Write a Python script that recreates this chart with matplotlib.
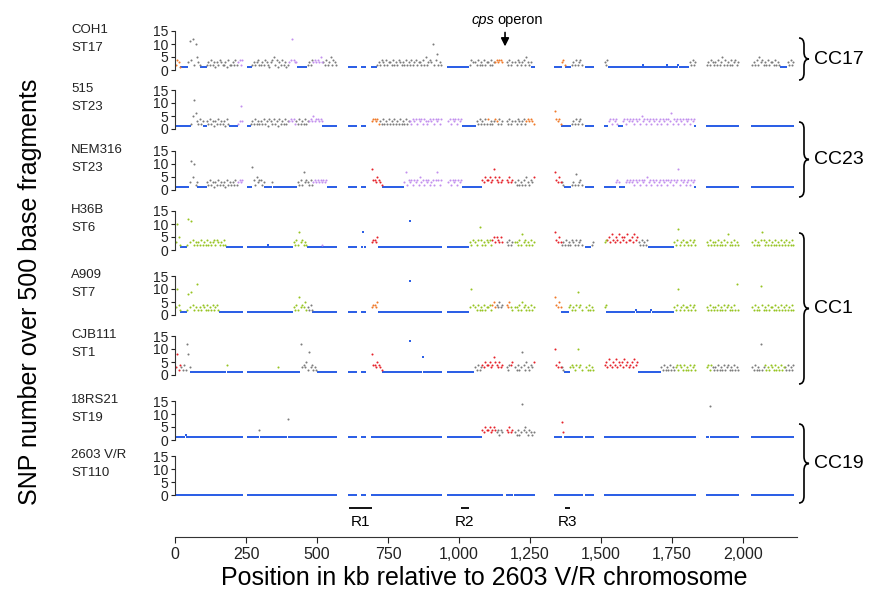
import sys
import matplotlib
matplotlib.use("Agg")
import matplotlib.pyplot as plt
from matplotlib.path import Path
from matplotlib.patches import PathPatch
from matplotlib.ticker import FuncFormatter

plt.rcParams['font.family'] = ['Liberation Sans', 'DejaVu Sans']

# ---------------- data ----------------
BIN_KB = 5  # each character = one 5 kb bin; '.' = no data (gap); hex digit = SNP count
strain_names = ["COH1", "515", "NEM316", "H36B", "A909", "CJB111", "18RS21", "2603 V/R"]
sequence_types = ["ST17", "ST23", "ST23", "ST6", "ST7", "ST1", "ST19", "ST110"]

snp_coh1 = [
    "2431111113b4c2a53211", "11232423132432231422", "32423424...111232342", "23243213452413242312",
    "34c43311111112324343", "43533242352432......", "..111111...111....11", "11232432423324232432",
    "32423242342332425234", "3a246232....11111111", "1111111243.324232423", "32423343443..32423.3",
    "2432342532311.......", ".......1111134211112", "3242342..111111.....", "..324111111111111111",
    "11111111121111111111", "11111121111111211111", "1132423.......232432", "32423524232423423...",
    "......23242534232423", "3242321111132423....",
]
snp_515 = [
    "1111111111125b632423", "11324231324232314211", "11112393...112324232", "32423143242314232423",
    "34342324232423343534", "43431111111111......", "..111111...111....34", "43423242324232423242",
    "32423324342434243234", "34243424....34243424", "3411111111.132423242", "42323432423..32423.3",
    "2432342343432.......", ".......7434211111112", "3242342..111111.....", "..111342434211134243",
    "43424342534243424342", "34243424362434243424", "3424341.......111111", "11111111111111111...",
    "......11111111111111", "1111111111111111....",
]
snp_nem316 = [
    "11111111113b5a231111", "11324231324232314232", "32423434...111942534", "42311111311111111111",
    "11111132427343242343", "43434341111111......", "..111111...111....84", "43543211111111111111",
    "13724342434253424342", "34247424....34243424", "3411111111.111114354", "45348543534..43534.3",
    "2423242532435.......", ".......7435332111112", "3262342..111111.....", "..111111113431111343",
    "43424342434253424342", "34243424342434824342", "3424341.......111111", "11111111111111111...",
    "......11111111111111", "1111111111111111....",
]
snp_h36b = [
    "3a5211112c3b42323242", "32423234243232421111", "11111111...111111111", "11111211111111111111",
    "11132427342321111111", "11121111111111......", "..111111...171....34", "43511111111111111111",
    "11111b11111111111111", "11111111....11111111", "1111111324.324942324", "34245354353..32423.3",
    "3242634232423.......", ".......7435323242324", "3242342..111123.....", "..344536435463545364",
    "45364532423241111111", "11111111111324823423", "3242342.......324232", "32423242362324232...",
    "......32423247423242", "3242324232423242....",
]
snp_a909 = [
    "3a4211112839423c2324", "32423242342111111111", "11111111...111111111", "11111111111111111111",
    "11132427343523242111", "11111111111111......", "..111111...111....34", "43511111111111111111",
    "11111d11111111111111", "11111111....11111111", "11111113a4.324232423", "34245343534..43532.3",
    "3242534232423.......", ".......7435311111342", "3249342..324232.....", "..341111111111111111",
    "11112111111111121111", "11111111111324a23423", "3242342.......324232", "324232423423242c2...",
    "......324232b4232423", "3242324232423242....",
]
snp_cjb111 = [
    "38243242c83111111111", "11111111111111114111", "11111111...111111111", "11111111111131111111",
    "11111111c34352934232", "11111111111111......", "..111111...111....84", "43543211111111111111",
    "11111d11111111711111", "11111111....11111111", "1111111111.324234354", "45347543534..32445.3",
    "2423942532435.......", ".......a435332111134", "324a342..324232.....", "..453643546354536453",
    "45364511111111111111", "11324232423234243242", "3242342.......342432", "32423242342324232...",
    "......324232c2342324", "3242324233242324....",
]
snp_18rs21 = [
    "11111112111111111111", "11111111111111111111", "11111111...111111114", "11111111111111111118",
    "11111111111111111111", "11111111111111......", "..111111...111....11", "11111111111111111111",
    "11111111111111111111", "11111111....11111111", "1111111111.111114354", "45345434243..43534.3",
    "2423e45324323.......", ".......1111173111111", "1111111..111111.....", "..111111111111111111",
    "11111111111111111111", "11111111111111111111", "1111111.......11d111", "11111111111111111...",
    "......11111111111111", "1111111111111111....",
]
snp_2603 = [
    "00000000000000000000", "00000000000000000000", "00000000...000000000", "00000000000000000000",
    "00000000000000000000", "00000000000000......", "..000000...000....00", "00000000000000000000",
    "00000000000000000000", "00000000....00000000", "0000000000.000000000", "00000000000..00000.0",
    "0000000000000.......", ".......0000000000000", "0000000..000000.....", "..000000000000000000",
    "00000000000000000000", "00000000000000000000", "0000000.......000000", "00000000000000000...",
    "......00000000000000", "0000000000000000....",
]

# coloured blocks (start kb, end kb, colour code); everything else is blue
blocks_coh1 = [(0, 20, "o"), (45, 90, "k"), (110, 220, "k"), (220, 240, "p"), (270, 400, "k"),
               (400, 430, "p"), (465, 485, "k"), (485, 520, "p"), (520, 570, "k"), (710, 940, "k"),
               (1035, 1125, "k"), (1125, 1155, "o"), (1165, 1255, "k"), (1360, 1375, "o"),
               (1395, 1435, "k"), (1510, 1525, "k"), (1810, 1835, "k"), (1870, 1985, "k"),
               (2030, 2130, "k"), (2155, 2185, "k")]
blocks_515 = [(55, 100, "k"), (110, 190, "k"), (220, 240, "p"), (265, 400, "k"), (400, 425, "p"),
              (425, 470, "k"), (470, 520, "p"), (690, 720, "o"), (720, 825, "k"), (825, 1010, "p"),
              (1060, 1100, "k"), (1100, 1105, "o"), (1105, 1125, "k"), (1125, 1135, "o"),
              (1135, 1155, "k"), (1165, 1235, "k"), (1235, 1265, "o"), (1335, 1360, "o"),
              (1395, 1435, "k"), (1525, 1560, "p"), (1575, 1830, "p")]
blocks_nem316 = [(50, 80, "k"), (110, 220, "k"), (220, 240, "p"), (270, 315, "k"), (340, 345, "k"),
                 (430, 485, "k"), (485, 535, "p"), (690, 730, "r"), (805, 1010, "p"), (1080, 1155, "r"),
                 (1165, 1190, "r"), (1190, 1260, "k"), (1260, 1265, "r"), (1335, 1360, "r"),
                 (1360, 1370, "k"), (1395, 1435, "k"), (1550, 1565, "p"), (1585, 1830, "p")]
blocks_h36b = [(0, 20, "g"), (40, 180, "g"), (415, 465, "g"), (515, 520, "p"), (690, 715, "r"),
               (1035, 1115, "g"), (1115, 1155, "r"), (1165, 1190, "k"), (1190, 1265, "g"),
               (1335, 1360, "r"), (1360, 1435, "k"), (1465, 1475, "k"), (1510, 1520, "g"),
               (1520, 1630, "r"), (1630, 1665, "k"), (1755, 2185, "g")]
blocks_a909 = [(0, 20, "g"), (40, 155, "g"), (415, 465, "g"), (465, 485, "k"), (690, 715, "o"),
               (1035, 1115, "g"), (1115, 1130, "o"), (1130, 1155, "k"), (1165, 1180, "o"),
               (1180, 1265, "g"), (1335, 1360, "o"), (1385, 1475, "g"), (1510, 1520, "g"),
               (1755, 2185, "g")]
blocks_cjb111 = [(0, 20, "r"), (20, 55, "k"), (180, 185, "g"), (360, 365, "g"), (440, 500, "k"),
                 (690, 730, "r"), (1055, 1080, "k"), (1080, 1155, "r"), (1165, 1180, "k"),
                 (1180, 1190, "r"), (1190, 1260, "k"), (1260, 1265, "r"), (1335, 1360, "r"),
                 (1360, 1370, "k"), (1390, 1475, "g"), (1510, 1630, "r"), (1710, 1760, "k"),
                 (1760, 1890, "g"), (1890, 2075, "k"), (2075, 2145, "g"), (2145, 2185, "k")]
blocks_18rs21 = [(295, 300, "k"), (395, 400, "k"), (1080, 1130, "r"), (1130, 1155, "k"),
                 (1165, 1190, "r"), (1190, 1265, "k"), (1360, 1370, "r"), (1880, 1885, "k")]
blocks_2603 = []

snp_panels = [snp_coh1, snp_515, snp_nem316, snp_h36b, snp_a909, snp_cjb111, snp_18rs21, snp_2603]
block_panels = [blocks_coh1, blocks_515, blocks_nem316, blocks_h36b, blocks_a909, blocks_cjb111,
                blocks_18rs21, blocks_2603]

clonal_complexes = ["CC17", "CC23", "CC1", "CC19"]
cc_span_px = [(38, 80), (122, 197), (233, 384), (424, 503)]

regions = [("R1", 611, 692), ("R2", 1007, 1035), ("R3", 1372, 1390)]
cps_kb = 1162
x_ticks = [0, 250, 500, 750, 1000, 1250, 1500, 1750, 2000]
y_ticks = [0, 5, 10, 15]

colour_map = {"b": "#2d60e6", "k": "#7c7c7c", "p": "#c290ee", "o": "#f07a2a",
              "r": "#e6232b", "g": "#97c423"}

# ---------------- layout ----------------
W, H = 873, 591
fig = plt.figure(figsize=(W / 100, H / 100), dpi=100)


def fx(px):
    return px / W


def fy(py):
    return 1 - py / H


X0_PX, X1_PX = 175, 797
XMAX = 2190
PX_PER_UNIT = 2.6
zero_px = [70, 129, 190, 250, 315, 375, 440, 495]
YLO, YHI = -1.0, 15.3


def colour_at(kb, blocks):
    for s, e, c in blocks:
        if s <= kb < e:
            return c
    return "b"


for i, (chunks, blocks) in enumerate(zip(snp_panels, block_panels)):
    z = zero_px[i]
    bottom = z - YLO * PX_PER_UNIT
    top = z - YHI * PX_PER_UNIT
    ax = fig.add_axes([fx(X0_PX), fy(bottom), fx(X1_PX) - fx(X0_PX), (bottom - top) / H])
    ax.set_xlim(0, XMAX)
    ax.set_ylim(YLO, YHI)
    ax.patch.set_alpha(0)
    seq = "".join(c[:20].ljust(20, ".") for c in chunks)
    groups = {}
    for j, ch in enumerate(seq):
        if ch == ".":
            continue
        kb = j * BIN_KB + BIN_KB / 2
        code = colour_at(kb, blocks)
        groups.setdefault(code, ([], []))
        groups[code][0].append(kb)
        groups[code][1].append(int(ch, 16))
    for code in ["b", "k", "p", "o", "r", "g"]:
        if code not in groups:
            continue
        xs, ys = groups[code]
        if code == "b":
            ax.scatter(xs, ys, s=4.0, marker="s", c=colour_map[code], linewidths=0, clip_on=False)
        else:
            ax.scatter(xs, ys, s=2.2, marker="o", c=colour_map[code], linewidths=0, clip_on=False)
    for sp in ["top", "right", "bottom"]:
        ax.spines[sp].set_visible(False)
    ax.spines["left"].set_bounds(0, 15)
    ax.spines["left"].set_linewidth(0.8)
    ax.spines["left"].set_color("#333333")
    ax.set_xticks([])
    ax.set_yticks(y_ticks)
    ax.tick_params(axis="y", length=3, width=0.8, pad=2, labelsize=10, colors="#222222")
    fig.text(fx(71), fy(z - 40), strain_names[i], fontsize=9.5, ha="left", va="center", color="#222222")
    fig.text(fx(71), fy(z - 22), sequence_types[i], fontsize=9.5, ha="left", va="center", color="#222222")
    if i == 0:
        ax.annotate("", xy=(cps_kb, 8.0), xytext=(cps_kb, 15.5),
                    arrowprops=dict(arrowstyle="-|>", color="black", lw=1.2, mutation_scale=12),
                    annotation_clip=False)

# cps operon label
fig.text(fx(494), fy(20), "cps", style="italic", fontsize=10.5, ha="right", va="center")
fig.text(fx(497), fy(20), "operon", fontsize=10.5, ha="left", va="center")

# bottom axis with regions
axb = fig.add_axes([fx(X0_PX), fy(537), fx(X1_PX) - fx(X0_PX), (537 - 498) / H])
axb.set_xlim(0, XMAX)
axb.set_ylim(537, 498)
axb.patch.set_alpha(0)
for sp in ["top", "right", "left"]:
    axb.spines[sp].set_visible(False)
axb.spines["bottom"].set_linewidth(0.8)
axb.spines["bottom"].set_color("#333333")
axb.set_yticks([])
axb.set_xticks(x_ticks)
axb.xaxis.set_major_formatter(FuncFormatter(lambda v, p: f"{int(v):,}"))
axb.tick_params(axis="x", length=4, width=0.8, pad=3, colors="#222222")
for lab in axb.get_xticklabels():
    lab.set_fontfamily(["Liberation Sans Narrow", "Liberation Sans", "DejaVu Sans"])
    lab.set_fontsize(11.5)
for name, s, e in regions:
    axb.plot([s, e], [508, 508], color="black", lw=1.3, solid_capstyle="butt")
    axb.text((s + e) / 2, 522, name, ha="center", va="center", fontsize=11,
             family=["Liberation Sans Narrow", "Liberation Sans", "DejaVu Sans"])

fig.text(fx(484), fy(578), "Position in kb relative to 2603 V/R chromosome", fontsize=18,
         ha="center", va="center")
fig.text(fx(30), fy(292), "SNP number over 500 base fragments", fontsize=18,
         ha="center", va="center", rotation=90)


def brace(x0, y_top, y_bot, w=10, r=7):
    xm = x0 + w / 2
    ym = (y_top + y_bot) / 2
    pts = [(x0, y_top), (xm, y_top), (xm, y_top + r), (xm, ym - r), (xm, ym), (x0 + w, ym),
           (xm, ym), (xm, ym + r), (xm, y_bot - r), (xm, y_bot), (x0, y_bot)]
    codes = [Path.MOVETO, Path.CURVE3, Path.CURVE3, Path.LINETO, Path.CURVE3, Path.CURVE3,
             Path.CURVE3, Path.CURVE3, Path.LINETO, Path.CURVE3, Path.CURVE3]
    verts = [(fx(x), fy(y)) for x, y in pts]
    fig.add_artist(PathPatch(Path(verts, codes), transform=fig.transFigure, fill=False,
                             lw=1.2, edgecolor="black"))


for cc, (yt, yb) in zip(clonal_complexes, cc_span_px):
    brace(799, yt, yb)
    fig.text(fx(814), fy((yt + yb) / 2), cc, fontsize=14, ha="left", va="center")

fig.savefig("out.png", dpi=100)
